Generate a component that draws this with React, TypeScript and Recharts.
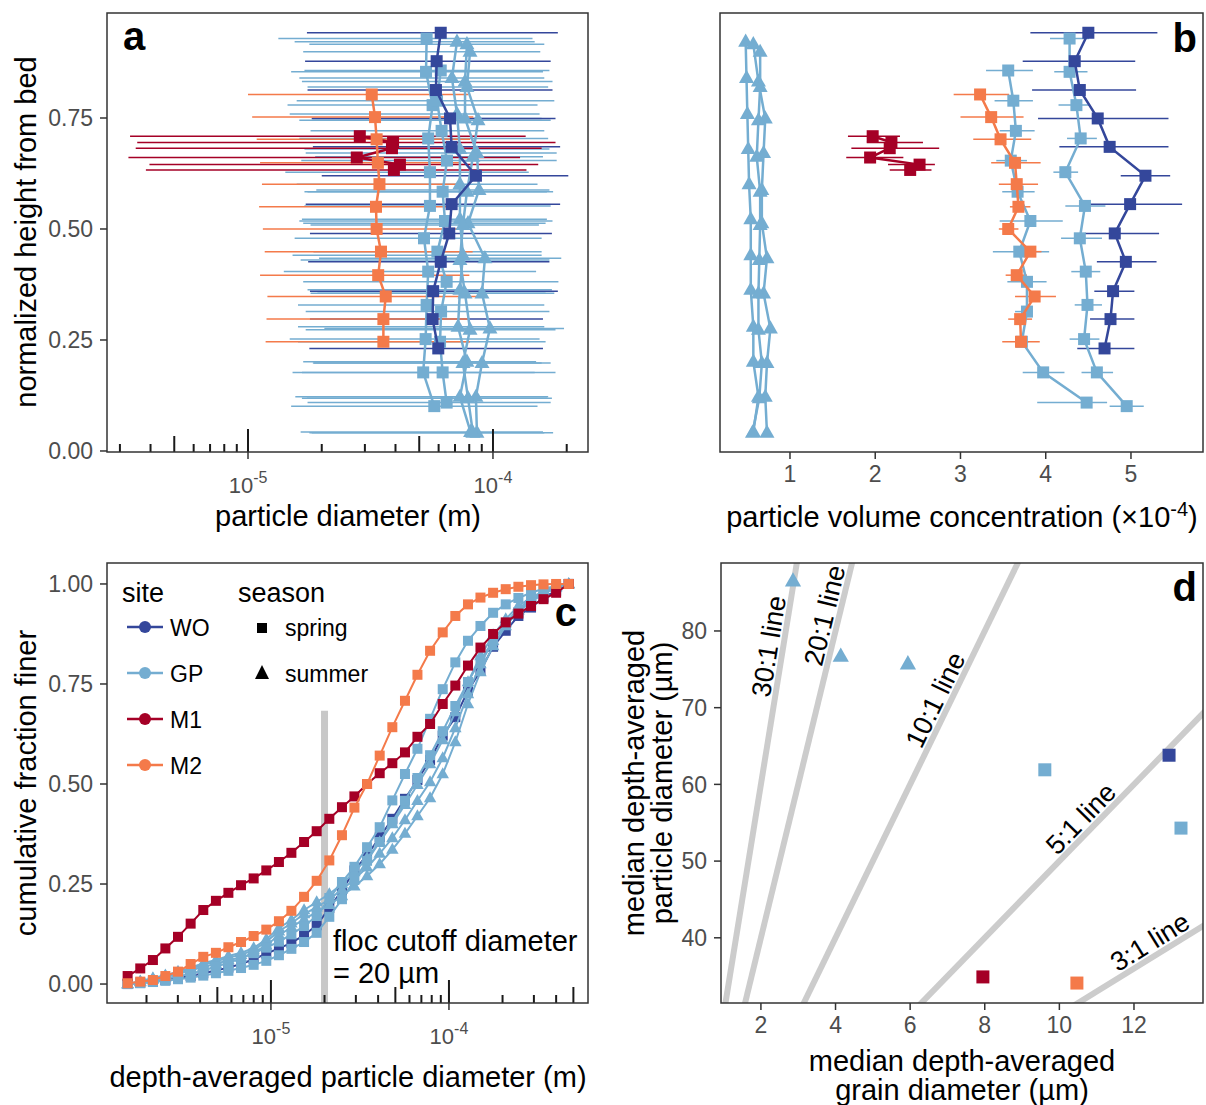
import React from "react";
import { ScatterChart, Scatter, XAxis, YAxis, ErrorBar } from "recharts";

const FONT = "'Liberation Sans', Arial, Helvetica, sans-serif";
const TICK_GRAY = "#4D4D4D";
const FRAME = "#333333";

const siteColors: Record<string, string> = {
  WO: "#34479B",
  GP: "#74ADD1",
  M1: "#A50026",
  M2: "#F47A4A",
};
const siteNames = ["WO", "GP", "M1", "M2"];

// ---------- panels a & b: profiles by normalized height ----------
const heightWO = [0.942, 0.878, 0.813, 0.749, 0.685, 0.62, 0.556, 0.49, 0.426, 0.36, 0.297, 0.231];
const heightGP1 = [0.929, 0.854, 0.779, 0.704, 0.628, 0.552, 0.479, 0.404, 0.329, 0.252, 0.177, 0.101];
const heightGP2 = [0.857, 0.789, 0.721, 0.654, 0.584, 0.518, 0.449, 0.381, 0.314, 0.246, 0.177, 0.109];
const heightM1 = [0.709, 0.695, 0.682, 0.661, 0.645, 0.633];
const heightM2 = [0.803, 0.752, 0.702, 0.649, 0.601, 0.55, 0.5, 0.449, 0.396, 0.348, 0.297, 0.246];
const heightT1 = [0.922, 0.84, 0.759, 0.68, 0.601, 0.522, 0.441, 0.363, 0.28, 0.201, 0.122, 0.043];
const heightT2 = [0.916, 0.832, 0.749, 0.671, 0.588, 0.513, 0.434, 0.355, 0.276, 0.198, 0.122, 0.041];
const heightT3 = [0.899, 0.82, 0.745, 0.663, 0.584, 0.509, 0.43, 0.355, 0.273, 0.198, 0.119, 0.041];

// particle diameter (m) with low/high range
const diamWO = [6.12e-5, 5.89e-5, 5.85e-5, 6.68e-5, 6.78e-5, 8.52e-5, 6.78e-5, 6.63e-5, 6.12e-5, 5.7e-5, 5.67e-5, 5.98e-5];
const diamWOLo = [1.74e-5, 1.71e-5, 1.75e-5, 1.82e-5, 1.84e-5, 2.0e-5, 1.72e-5, 1.79e-5, 1.76e-5, 1.79e-5, 1.79e-5, 1.78e-5];
const diamWOHi = [1.84e-4, 1.72e-4, 1.75e-4, 1.8e-4, 1.88e-4, 2.03e-4, 1.88e-4, 1.74e-4, 1.7e-4, 1.84e-4, 1.6e-4, 1.6e-4];
const diamGP1 = [5.36e-5, 5.33e-5, 5.67e-5, 5.44e-5, 5.53e-5, 5.53e-5, 5.23e-5, 5.44e-5, 5.36e-5, 5.31e-5, 5.19e-5, 5.76e-5];
const diamGP1Lo = [1.33e-5, 1.5e-5, 1.45e-5, 1.62e-5, 1.42e-5, 1.7e-5, 1.55e-5, 1.4e-5, 1.6e-5, 1.48e-5, 1.52e-5, 1.5e-5];
const diamGP1Hi = [1.45e-4, 1.6e-4, 1.52e-4, 1.68e-4, 1.4e-4, 1.72e-4, 1.58e-4, 1.5e-4, 1.62e-4, 1.55e-4, 1.48e-4, 1.52e-4];
const diamGP2 = [6.12e-5, 5.91e-5, 6.17e-5, 6.49e-5, 6.23e-5, 6.37e-5, 5.93e-5, 6.47e-5, 6.14e-5, 6.08e-5, 6.23e-5, 6.47e-5];
const diamGP2Lo = [1.7e-5, 1.58e-5, 1.8e-5, 1.65e-5, 1.75e-5, 1.62e-5, 1.85e-5, 1.68e-5, 1.72e-5, 1.6e-5, 1.66e-5, 1.75e-5];
const diamGP2Hi = [1.7e-4, 1.78e-4, 1.62e-4, 1.82e-4, 1.66e-4, 1.75e-4, 1.58e-4, 1.85e-4, 1.7e-4, 1.64e-4, 1.8e-4, 1.72e-4];
const diamM1 = [2.86e-5, 3.91e-5, 3.87e-5, 2.78e-5, 4.17e-5, 3.94e-5];
const diamM1Lo = [3.3e-6, 3.53e-6, 3.48e-6, 3.25e-6, 3.96e-6, 3.83e-6];
const diamM1Hi = [1.36e-4, 1.8e-4, 1.58e-4, 1.29e-4, 1.53e-4, 1.37e-4];
const diamM2 = [3.2e-5, 3.3e-5, 3.35e-5, 3.39e-5, 3.44e-5, 3.33e-5, 3.35e-5, 3.49e-5, 3.4e-5, 3.65e-5, 3.57e-5, 3.57e-5];
const diamM2Lo = [1.0e-5, 1.04e-5, 1.085e-5, 1.12e-5, 1.14e-5, 1.11e-5, 1.15e-5, 1.17e-5, 1.12e-5, 1.2e-5, 1.19e-5, 1.18e-5];
const diamM2Hi = [7.93e-5, 8.31e-5, 8.06e-5, 7.33e-5, 7.22e-5, 7.11e-5, 7.69e-5, 8.26e-5, 8.01e-5, 8.71e-5, 7.93e-5, 8.06e-5];
const diamT1 = [7.13e-5, 6.8e-5, 7.13e-5, 7.33e-5, 7.33e-5, 7.33e-5, 7.54e-5, 7.33e-5, 7.2e-5, 7.83e-5, 7.33e-5, 8.1e-5];
const diamT1Lo = [1.55e-5, 1.62e-5, 1.48e-5, 1.7e-5, 1.58e-5, 1.66e-5, 1.52e-5, 1.75e-5, 1.6e-5, 1.68e-5, 1.56e-5, 1.64e-5];
const diamT1Hi = [1.48e-4, 1.62e-4, 1.55e-4, 1.7e-4, 1.52e-4, 1.66e-4, 1.58e-4, 1.74e-4, 1.62e-4, 1.5e-4, 1.68e-4, 1.6e-4];
const diamT2 = [7.83e-5, 7.69e-5, 7.69e-5, 8.6e-5, 8.77e-5, 7.91e-5, 9.27e-5, 9.02e-5, 9.72e-5, 9.02e-5, 8.52e-5, 8.6e-5];
const diamT2Lo = [1.78e-5, 1.66e-5, 1.84e-5, 1.72e-5, 1.9e-5, 1.68e-5, 1.95e-5, 1.8e-5, 2.05e-5, 1.86e-5, 1.74e-5, 1.82e-5];
const diamT2Hi = [1.62e-4, 1.75e-4, 1.58e-4, 1.82e-4, 1.7e-4, 1.64e-4, 1.9e-4, 1.78e-4, 1.95e-4, 1.72e-4, 1.66e-4, 1.76e-4];
const diamT3 = [8.06e-5, 7.83e-5, 8.69e-5, 8.28e-5, 7.83e-5, 7.54e-5, 7.33e-5, 7.69e-5, 8.06e-5, 7.54e-5, 7.91e-5, 8.28e-5];
const diamT3Lo = [1.68e-5, 1.75e-5, 1.62e-5, 1.88e-5, 1.7e-5, 1.8e-5, 1.64e-5, 1.92e-5, 1.72e-5, 1.84e-5, 1.66e-5, 1.78e-5];
const diamT3Hi = [1.56e-4, 1.68e-4, 1.72e-4, 1.6e-4, 1.76e-4, 1.54e-4, 1.7e-4, 1.64e-4, 1.8e-4, 1.58e-4, 1.74e-4, 1.62e-4];

// particle volume concentration (x1e-4) with low/high range
const concWO = [4.5, 4.34, 4.4, 4.61, 4.75, 5.17, 4.99, 4.81, 4.94, 4.79, 4.76, 4.69];
const concWOLo = [3.82, 3.73, 3.84, 3.91, 4.16, 4.88, 4.48, 4.46, 4.6, 4.57, 4.52, 4.37];
const concWOHi = [5.31, 5.05, 5.06, 5.44, 5.44, 5.46, 5.6, 5.33, 5.3, 5.04, 5.04, 5.04];
const concGP1 = [4.28, 4.28, 4.36, 4.41, 4.23, 4.46, 4.4, 4.47, 4.49, 4.45, 4.6, 4.95];
const concGP1Lo = [4.05, 4.1, 4.15, 4.25, 4.09, 4.23, 4.18, 4.3, 4.34, 4.28, 4.42, 4.75];
const concGP1Hi = [4.51, 4.49, 4.52, 4.6, 4.38, 4.7, 4.66, 4.64, 4.66, 4.63, 4.79, 5.15];
const concGP2 = [3.56, 3.62, 3.65, 3.59, 3.67, 3.82, 3.69, 3.78, 3.78, 3.72, 3.97, 4.48];
const concGP2Lo = [3.3, 3.4, 3.46, 3.42, 3.49, 3.46, 3.38, 3.55, 3.64, 3.64, 3.73, 3.9];
const concGP2Hi = [3.85, 3.85, 3.87, 3.78, 3.87, 4.2, 4.04, 4.01, 3.82, 3.8, 4.22, 4.72];
const concM1 = [1.97, 2.19, 2.17, 1.94, 2.52, 2.41];
const concM1Lo = [1.68, 1.9, 1.72, 1.66, 2.15, 2.17];
const concM1Hi = [2.29, 2.56, 2.75, 2.33, 2.7, 2.66];
const concM2 = [3.23, 3.36, 3.47, 3.64, 3.66, 3.68, 3.56, 3.82, 3.66, 3.87, 3.7, 3.71];
const concM2Lo = [2.92, 3.0, 3.15, 3.36, 3.45, 3.58, 3.45, 3.65, 3.53, 3.64, 3.56, 3.49];
const concM2Hi = [3.57, 3.74, 3.83, 3.94, 3.91, 3.82, 3.68, 3.95, 3.78, 4.12, 3.84, 3.93];
const concT1 = [0.48, 0.49, 0.5, 0.51, 0.52, 0.54, 0.54, 0.54, 0.57, 0.57, 0.63, 0.57];
const concT2 = [0.57, 0.63, 0.71, 0.69, 0.67, 0.67, 0.73, 0.69, 0.77, 0.73, 0.71, 0.73];
const concT3 = [0.65, 0.65, 0.63, 0.61, 0.65, 0.65, 0.64, 0.63, 0.63, 0.67, 0.64, 0.56];

const profiles = [
  { site: "GP", season: "summer", h: heightT1, d: diamT1, dLo: diamT1Lo, dHi: diamT1Hi, c: concT1 },
  { site: "GP", season: "summer", h: heightT2, d: diamT2, dLo: diamT2Lo, dHi: diamT2Hi, c: concT2 },
  { site: "GP", season: "summer", h: heightT3, d: diamT3, dLo: diamT3Lo, dHi: diamT3Hi, c: concT3 },
  { site: "GP", season: "spring", h: heightGP1, d: diamGP1, dLo: diamGP1Lo, dHi: diamGP1Hi, c: concGP1, cLo: concGP1Lo, cHi: concGP1Hi },
  { site: "GP", season: "spring", h: heightGP2, d: diamGP2, dLo: diamGP2Lo, dHi: diamGP2Hi, c: concGP2, cLo: concGP2Lo, cHi: concGP2Hi },
  { site: "WO", season: "spring", h: heightWO, d: diamWO, dLo: diamWOLo, dHi: diamWOHi, c: concWO, cLo: concWOLo, cHi: concWOHi },
  { site: "M1", season: "spring", h: heightM1, d: diamM1, dLo: diamM1Lo, dHi: diamM1Hi, c: concM1, cLo: concM1Lo, cHi: concM1Hi },
  { site: "M2", season: "spring", h: heightM2, d: diamM2, dLo: diamM2Lo, dHi: diamM2Hi, c: concM2, cLo: concM2Lo, cHi: concM2Hi },
];

const heightTicks = [0, 0.25, 0.5, 0.75];
const concTicks = [1, 2, 3, 4, 5];
const logTicksA = [3e-6, 4e-6, 5e-6, 6e-6, 7e-6, 8e-6, 9e-6, 1e-5, 2e-5, 3e-5, 4e-5, 5e-5, 6e-5, 7e-5, 8e-5, 9e-5, 1e-4, 2e-4];

// ---------- panel c: cumulative distributions ----------
const binSize = [
  1.567e-6, 1.845e-6, 2.173e-6, 2.553e-6, 3.006e-6, 3.54e-6, 4.169e-6, 4.909e-6, 5.768e-6, 6.792e-6, 7.998e-6, 9.419e-6,
  1.109e-5, 1.303e-5, 1.535e-5, 1.807e-5, 2.128e-5, 2.506e-5, 2.944e-5, 3.467e-5, 4.083e-5, 4.808e-5, 5.662e-5, 6.653e-5,
  7.834e-5, 9.226e-5, 1.086e-4, 1.279e-4, 1.503e-4, 1.77e-4, 2.084e-4, 2.455e-4, 2.891e-4, 3.396e-4, 3.999e-4, 4.71e-4,
];
const cdfM1 = [0.02, 0.039, 0.06, 0.089, 0.118, 0.151, 0.185, 0.208, 0.228, 0.247, 0.264, 0.284, 0.305, 0.328, 0.355, 0.382, 0.413, 0.442, 0.469, 0.5, 0.527, 0.552, 0.579, 0.618, 0.65, 0.7, 0.746, 0.796, 0.841, 0.875, 0.904, 0.926, 0.945, 0.962, 0.978, 1.0];
const cdfM2 = [0.002, 0.006, 0.01, 0.02, 0.031, 0.05, 0.068, 0.078, 0.092, 0.105, 0.12, 0.136, 0.157, 0.183, 0.218, 0.258, 0.309, 0.372, 0.441, 0.5, 0.571, 0.642, 0.708, 0.773, 0.833, 0.879, 0.92, 0.949, 0.966, 0.978, 0.987, 0.993, 0.997, 0.999, 1.0, 1.0];
const cdfWO = [0.0, 0.003, 0.006, 0.01, 0.015, 0.02, 0.027, 0.034, 0.041, 0.05, 0.062, 0.076, 0.089, 0.103, 0.122, 0.147, 0.19, 0.234, 0.284, 0.322, 0.367, 0.413, 0.463, 0.51, 0.56, 0.621, 0.667, 0.733, 0.783, 0.843, 0.883, 0.92, 0.941, 0.966, 0.983, 1.0];
const cdfGP1 = [0.0, 0.004, 0.008, 0.013, 0.019, 0.026, 0.034, 0.043, 0.053, 0.064, 0.077, 0.091, 0.106, 0.124, 0.145, 0.17, 0.215, 0.255, 0.293, 0.342, 0.392, 0.459, 0.525, 0.588, 0.663, 0.737, 0.804, 0.858, 0.895, 0.928, 0.949, 0.965, 0.978, 0.988, 0.995, 1.0];
const cdfGP2 = [0.0, 0.002, 0.005, 0.008, 0.012, 0.016, 0.021, 0.027, 0.033, 0.04, 0.048, 0.058, 0.072, 0.088, 0.105, 0.128, 0.168, 0.212, 0.26, 0.308, 0.355, 0.405, 0.458, 0.515, 0.572, 0.632, 0.695, 0.755, 0.81, 0.858, 0.898, 0.93, 0.955, 0.975, 0.99, 1.0];
const cdfT1 = [0.0, 0.007, 0.015, 0.022, 0.031, 0.041, 0.052, 0.06, 0.07, 0.078, 0.09, 0.112, 0.14, 0.16, 0.185, 0.205, 0.225, 0.25, 0.28, 0.315, 0.355, 0.4, 0.448, 0.498, 0.55, 0.61, 0.68, 0.755, 0.82, 0.872, 0.912, 0.945, 0.966, 0.982, 0.994, 1.0];
const cdfT2 = [0.0, 0.006, 0.013, 0.02, 0.028, 0.038, 0.048, 0.056, 0.066, 0.073, 0.085, 0.106, 0.132, 0.152, 0.175, 0.192, 0.212, 0.236, 0.262, 0.292, 0.326, 0.365, 0.41, 0.458, 0.505, 0.565, 0.64, 0.725, 0.8, 0.858, 0.902, 0.938, 0.962, 0.98, 0.993, 1.0];
const cdfT3 = [0.0, 0.005, 0.011, 0.017, 0.025, 0.034, 0.043, 0.05, 0.06, 0.066, 0.078, 0.097, 0.122, 0.142, 0.162, 0.18, 0.198, 0.22, 0.244, 0.27, 0.3, 0.336, 0.376, 0.42, 0.465, 0.525, 0.605, 0.7, 0.78, 0.845, 0.895, 0.933, 0.958, 0.977, 0.991, 1.0];

const cdfCurves = [
  { site: "WO", season: "spring", cdf: cdfWO },
  { site: "GP", season: "summer", cdf: cdfT3 },
  { site: "GP", season: "summer", cdf: cdfT2 },
  { site: "GP", season: "summer", cdf: cdfT1 },
  { site: "GP", season: "spring", cdf: cdfGP2 },
  { site: "GP", season: "spring", cdf: cdfGP1 },
  { site: "M1", season: "spring", cdf: cdfM1 },
  { site: "M2", season: "spring", cdf: cdfM2 },
];
const flocCutoff = 2e-5;
const fractionTicks = [0, 0.25, 0.5, 0.75, 1];
const logTicksC = [
  2e-6, 3e-6, 4e-6, 5e-6, 6e-6, 7e-6, 8e-6, 9e-6, 1e-5, 2e-5, 3e-5, 4e-5, 5e-5, 6e-5, 7e-5, 8e-5, 9e-5, 1e-4, 2e-4, 3e-4,
  4e-4, 5e-4,
];

// ---------- panel d: grain vs particle diameter ----------
const grainD = [2.86, 4.14, 5.94, 9.61, 12.94, 13.26, 7.95, 10.47];
const particleD = [86.5, 76.7, 75.7, 61.9, 63.8, 54.3, 34.9, 34.1];
const pointSite = ["GP", "GP", "GP", "GP", "WO", "GP", "M1", "M2"];
const pointSeason = ["summer", "summer", "summer", "spring", "spring", "spring", "spring", "spring"];
const ratios = [30, 20, 10, 5, 3];
const ratioLabelAt = [2.59, 4.08, 7.02, 10.85, 12.63];
const ratioLabelAngle = [80.8, 76.4, 64.0, 45.8, 31.7];
const grainTicks = [2, 4, 6, 8, 10, 12];
const particleTicks = [40, 50, 60, 70, 80];

// ---------- helpers ----------
const nothing = () => <g />;

function markShape(season: string, color: string, size: number) {
  return (p: any) => {
    const { cx, cy } = p;
    if (!Number.isFinite(cx) || !Number.isFinite(cy)) return <g />;
    if (season === "spring")
      return <rect x={cx - size / 2} y={cy - size / 2} width={size} height={size} fill={color} />;
    const w = size * 1.25;
    const h = size * 1.1;
    return (
      <polygon
        points={`${cx},${cy - h * 0.62} ${cx - w / 2},${cy + h * 0.38} ${cx + w / 2},${cy + h * 0.38}`}
        fill={color}
      />
    );
  };
}

function profileRows(h: number[], v: number[], lo?: number[], hi?: number[]) {
  return h.map((y, i) => ({
    x: v[i],
    y,
    err: lo && hi ? [v[i] - lo[i], hi[i] - v[i]] : [0, 0],
  }));
}

function LogTick(props: any) {
  const { x, y, payload } = props;
  const v = payload.value as number;
  const exp = Math.floor(Math.log10(v) + 1e-9);
  const mant = Math.round(v / Math.pow(10, exp));
  const len = mant === 1 ? 23 : mant === 5 ? 16 : 8;
  return (
    <g>
      <line x1={x} x2={x} y1={y} y2={y - len} stroke="#1a1a1a" strokeWidth={2} />
      {mant === 1 && <line x1={x} x2={x} y1={y} y2={y + 7} stroke={FRAME} strokeWidth={1.5} />}
      {mant === 1 && (
        <text x={x} y={y + 41} textAnchor="middle" fill={TICK_GRAY} fontSize={22} fontFamily={FONT}>
          10
          <tspan dy={-10} fontSize={16}>{`-${-exp}`}</tspan>
        </text>
      )}
    </g>
  );
}

const tickStyle = { fill: TICK_GRAY, fontSize: 23, fontFamily: FONT };
const tickLineStyle = { stroke: FRAME, strokeWidth: 1.5 };
const yDomainAB: [number, number] = [-0.0023, 0.9865];

function PanelA() {
  return (
    <ScatterChart width={600} height={545} margin={{ top: 13, right: 12, bottom: 33, left: 47 }}>
      <XAxis
        type="number"
        dataKey="x"
        scale="log"
        domain={[2.657e-6, 2.443e-4]}
        allowDataOverflow
        ticks={logTicksA}
        interval={0}
        tick={<LogTick />}
        tickLine={false}
        axisLine={false}
        tickSize={0}
        tickMargin={0}
        height={60}
      />
      <YAxis
        type="number"
        dataKey="y"
        domain={yDomainAB}
        allowDataOverflow
        ticks={heightTicks}
        interval={0}
        tickFormatter={(v: number) => v.toFixed(2)}
        width={60}
        axisLine={false}
        tickSize={7}
        tickMargin={7}
        tickLine={tickLineStyle}
        tick={tickStyle}
      />
      {profiles.map((p, i) => (
        <Scatter key={`eb${i}`} data={profileRows(p.h, p.d, p.dLo, p.dHi)} shape={nothing} isAnimationActive={false}>
          <ErrorBar dataKey="err" direction="x" width={0} stroke={siteColors[p.site]} strokeWidth={1.5} isAnimationActive={false} />
        </Scatter>
      ))}
      {profiles.map((p, i) => (
        <Scatter
          key={`pt${i}`}
          data={profileRows(p.h, p.d)}
          shape={markShape(p.season, siteColors[p.site], 12)}
          line={{ stroke: siteColors[p.site], strokeWidth: 2.5 }}
          isAnimationActive={false}
        />
      ))}
    </ScatterChart>
  );
}

function PanelB() {
  return (
    <ScatterChart width={596} height={545} margin={{ top: 13, right: 3, bottom: 33, left: 50 }}>
      <XAxis
        type="number"
        dataKey="x"
        domain={[0.179, 5.845]}
        allowDataOverflow
        ticks={concTicks}
        interval={0}
        axisLine={false}
        tickSize={7}
        tickMargin={7}
        tickLine={tickLineStyle}
        tick={tickStyle}
        height={60}
      />
      <YAxis
        type="number"
        dataKey="y"
        domain={yDomainAB}
        allowDataOverflow
        ticks={heightTicks}
        interval={0}
        width={60}
        axisLine={false}
        tickSize={7}
        tickLine={tickLineStyle}
        tick={false}
      />
      {profiles
        .filter((p) => p.cLo)
        .map((p, i) => (
          <Scatter key={`eb${i}`} data={profileRows(p.h, p.c, p.cLo, p.cHi)} shape={nothing} isAnimationActive={false}>
            <ErrorBar dataKey="err" direction="x" width={0} stroke={siteColors[p.site]} strokeWidth={1.5} isAnimationActive={false} />
          </Scatter>
        ))}
      {profiles.map((p, i) => (
        <Scatter
          key={`pt${i}`}
          data={profileRows(p.h, p.c)}
          shape={markShape(p.season, siteColors[p.site], 12)}
          line={{ stroke: siteColors[p.site], strokeWidth: 2.5 }}
          isAnimationActive={false}
        />
      ))}
    </ScatterChart>
  );
}

function PanelC() {
  const cutoffLine = [
    { x: flocCutoff, y: -0.0474 },
    { x: flocCutoff, y: 0.683 },
  ];
  return (
    <ScatterChart width={600} height={555} margin={{ top: 13, right: 12, bottom: 44, left: 47 }}>
      <XAxis
        type="number"
        dataKey="x"
        scale="log"
        domain={[1.2e-6, 6.04e-4]}
        allowDataOverflow
        ticks={logTicksC}
        interval={0}
        tick={<LogTick />}
        tickLine={false}
        axisLine={false}
        tickSize={0}
        tickMargin={0}
        height={58}
      />
      <YAxis
        type="number"
        dataKey="y"
        domain={[-0.0474, 1.0524]}
        allowDataOverflow
        ticks={fractionTicks}
        interval={0}
        tickFormatter={(v: number) => v.toFixed(2)}
        width={60}
        axisLine={false}
        tickSize={7}
        tickMargin={7}
        tickLine={tickLineStyle}
        tick={tickStyle}
      />
      <Scatter data={cutoffLine} shape={nothing} line={{ stroke: "#C8C8C8", strokeWidth: 7 }} isAnimationActive={false} />
      {cdfCurves.map((c, i) => (
        <Scatter
          key={`cdf${i}`}
          data={binSize.map((x, j) => ({ x, y: c.cdf[j] }))}
          shape={markShape(c.season, siteColors[c.site], 10)}
          line={{ stroke: siteColors[c.site], strokeWidth: 2 }}
          isAnimationActive={false}
        />
      ))}
    </ScatterChart>
  );
}

function RatioLabel(props: any) {
  const { cx, cy, payload } = props;
  if (!Number.isFinite(cx)) return <g />;
  const a = (payload.angle * Math.PI) / 180;
  const ox = cx - Math.sin(a) * 14;
  const oy = cy - Math.cos(a) * 14;
  return (
    <text
      x={ox}
      y={oy}
      transform={`rotate(${-payload.angle} ${ox} ${oy})`}
      textAnchor="middle"
      dominantBaseline="central"
      fontSize={27}
      fontFamily={FONT}
      fill="#000"
    >
      {payload.text}
    </text>
  );
}

function PanelD() {
  const lineLabels = ratios.map((k, i) => ({
    x: ratioLabelAt[i],
    y: k * ratioLabelAt[i],
    angle: ratioLabelAngle[i],
    text: `${k}:1 line`,
  }));
  return (
    <ScatterChart width={596} height={555} margin={{ top: 13, right: 3, bottom: 44, left: 51 }}>
      <XAxis
        type="number"
        dataKey="x"
        domain={[0.93, 13.85]}
        allowDataOverflow
        ticks={grainTicks}
        interval={0}
        axisLine={false}
        tickSize={7}
        tickMargin={7}
        tickLine={tickLineStyle}
        tick={tickStyle}
        height={58}
      />
      <YAxis
        type="number"
        dataKey="y"
        domain={[31.5, 88.86]}
        allowDataOverflow
        ticks={particleTicks}
        interval={0}
        width={60}
        axisLine={false}
        tickSize={7}
        tickMargin={7}
        tickLine={tickLineStyle}
        tick={tickStyle}
      />
      {ratios.map((k) => (
        <Scatter
          key={`r${k}`}
          data={[
            { x: 0, y: 0 },
            { x: 14, y: 14 * k },
          ]}
          shape={nothing}
          line={{ stroke: "#CCCCCC", strokeWidth: 6 }}
          isAnimationActive={false}
        />
      ))}
      <Scatter data={lineLabels} shape={<RatioLabel />} isAnimationActive={false} />
      {grainD.map((g, i) => (
        <Scatter
          key={`p${i}`}
          data={[{ x: g, y: particleD[i] }]}
          shape={markShape(pointSeason[i], siteColors[pointSite[i]], 13)}
          isAnimationActive={false}
        />
      ))}
    </ScatterChart>
  );
}

function Overlay() {
  const txt = { fontFamily: FONT, fill: "#000" };
  return (
    <svg
      width={1206}
      height={1105}
      style={{ position: "absolute", left: 0, top: 0, pointerEvents: "none" }}
    >
      <g fill="none" stroke={FRAME} strokeWidth={1.5}>
        <rect x={107} y={13} width={481} height={439} />
        <rect x={720} y={13} width={483} height={439} />
        <rect x={107} y={563} width={481} height={440} />
        <rect x={721} y={563} width={482} height={440} />
      </g>
      <g {...txt} fontSize={40} fontWeight="bold">
        <text x={123} y={50}>a</text>
        <text x={1197} y={52} textAnchor="end">b</text>
        <text x={577} y={626} textAnchor="end">c</text>
        <text x={1197} y={601} textAnchor="end">d</text>
      </g>
      <g {...txt} fontSize={29}>
        <text x={348} y={526} textAnchor="middle">particle diameter (m)</text>
        <text transform="translate(36,232) rotate(-90)" textAnchor="middle">normalized height from bed</text>
        <text x={962} y={527} textAnchor="middle">
          particle volume concentration (×10
          <tspan dy={-11} fontSize={20}>-4</tspan>
          <tspan dy={11}>)</tspan>
        </text>
        <text x={348} y={1087} textAnchor="middle">depth-averaged particle diameter (m)</text>
        <text transform="translate(36,783) rotate(-90)" textAnchor="middle">cumulative fraction finer</text>
        <text x={962} y={1071} textAnchor="middle">median depth-averaged</text>
        <text x={962} y={1100} textAnchor="middle">grain diameter (µm)</text>
        <text transform="translate(644,783) rotate(-90)" textAnchor="middle">median depth-averaged</text>
        <text transform="translate(672,783) rotate(-90)" textAnchor="middle">particle diameter (µm)</text>
        <text x={333} y={951}>floc cutoff diameter</text>
        <text x={333} y={983}>= 20 µm</text>
      </g>
      {/* legend, panel c */}
      <g {...txt}>
        <text x={122} y={602} fontSize={27}>site</text>
        <text x={238} y={602} fontSize={27}>season</text>
        {siteNames.map((s, i) => {
          const y = 627 + 46 * i;
          return (
            <g key={s}>
              <line x1={127} x2={163} y1={y} y2={y} stroke={siteColors[s]} strokeWidth={2.5} />
              <circle cx={145} cy={y} r={6} fill={siteColors[s]} />
              <text x={170} y={y + 9} fontSize={23}>{s}</text>
            </g>
          );
        })}
        <rect x={257} y={623} width={10} height={10} fill="#000" />
        <text x={285} y={636} fontSize={23}>spring</text>
        <polygon points="262,665 255,679 269,679" fill="#000" />
        <text x={285} y={682} fontSize={23}>summer</text>
      </g>
    </svg>
  );
}

export default function App() {
  return (
    <div style={{ position: "absolute", left: 0, top: 0, width: 1206, height: 1105, background: "#fff", fontFamily: FONT }}>
      <div style={{ position: "absolute", left: 0, top: 0 }}>
        <PanelA />
      </div>
      <div style={{ position: "absolute", left: 610, top: 0 }}>
        <PanelB />
      </div>
      <div style={{ position: "absolute", left: 0, top: 550 }}>
        <PanelC />
      </div>
      <div style={{ position: "absolute", left: 610, top: 550 }}>
        <PanelD />
      </div>
      <Overlay />
    </div>
  );
}
